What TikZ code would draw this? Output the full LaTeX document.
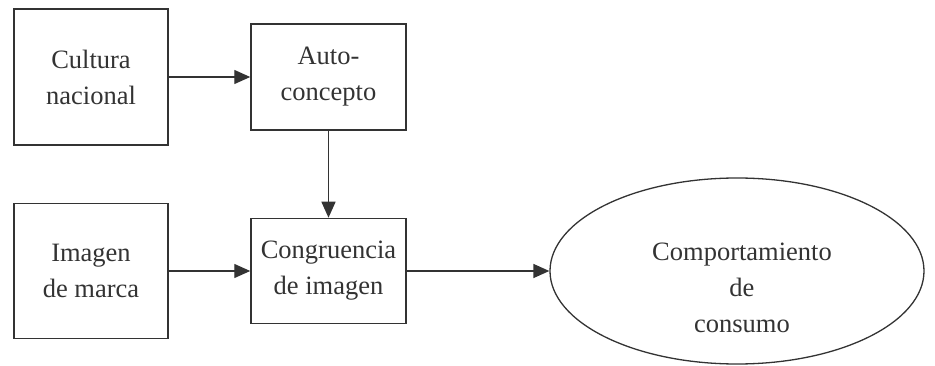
\documentclass[tikz,border=0pt]{standalone}
\usepackage{fontspec}
\setmainfont{Liberation Serif}
\usetikzlibrary{shapes.geometric,arrows.meta}
\definecolor{ink}{HTML}{333333}
\begin{document}
\begin{tikzpicture}[x=1pt,y=-1pt,
  box/.style={draw=ink,line width=1.5pt,rectangle,inner sep=0pt,align=center,text=ink,
    font=\fontsize{26.5}{36}\selectfont},
  lbl/.style={align=center,text=ink,font=\fontsize{26.5}{36}\selectfont,inner sep=0pt},
  arr/.style={draw=ink,line width=1.4pt,-{Triangle[length=16pt,width=14pt]}}]
\useasboundingbox (0,0) rectangle (935,366);
\node[box,minimum width=154pt,minimum height=136pt] (cn) at (91,77) {Cultura\\nacional};
\node[box,minimum width=155pt,minimum height=106pt] (ac) at (328.5,77) {Auto-\\concepto};
\node[box,minimum width=154pt,minimum height=135pt] (im) at (91,271) {Imagen\\de marca};
\node[box,minimum width=155pt,minimum height=105pt] (ci) at (328.5,271) {Congruencia\\de imagen};
\node[draw=ink,line width=1.3pt,ellipse,inner sep=0pt,minimum width=374pt,minimum height=186pt] (cc) at (737,271) {};
\node[lbl] (cct) at (742,288) {Comportamiento\\de\\consumo};
\draw[arr] (cn.east) -- (ac.west);
\draw[arr] (ac.south) -- (ci.north);
\draw[arr] (im.east) -- (ci.west);
\draw[arr] (ci.east) -- (cc.west);
\end{tikzpicture}
\end{document}
